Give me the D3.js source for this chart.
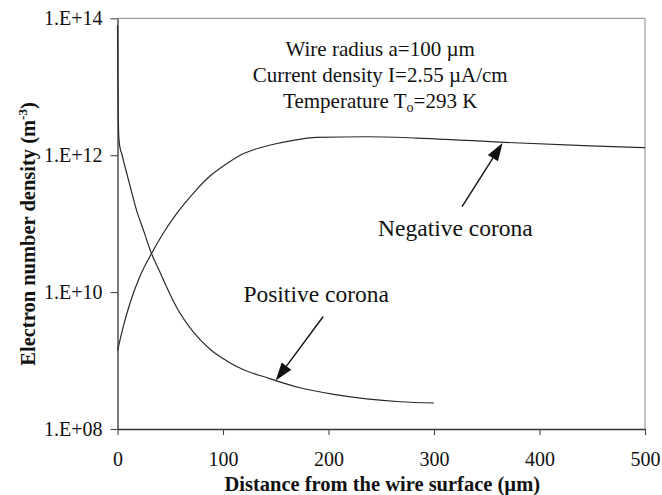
<!DOCTYPE html>
<html>
<head>
<meta charset="utf-8">
<script src="https://cdn.jsdelivr.net/npm/d3@7"></script>
<style>
  html, body { margin: 0; padding: 0; background: #fff; }
  svg { display: block; }
  text { font-family: "Liberation Serif", "Times New Roman", serif; fill: #111; }
</style>
</head>
<body>
<svg id="chart" width="662" height="495"></svg>
<script>
// Electron number density vs. distance from wire surface
const positiveX = [0, 0.3, 0.7, 1.3, 2.5, 4, 7, 12, 18, 24.5, 32.4, 40, 47, 56, 72, 88, 104, 119, 142, 150, 173, 205, 236, 268, 300];
const positiveN = [7.9e13, 1.6e13, 4.0e12, 1.8e12, 1.26e12, 1.05e12, 6.9e11, 3.5e11, 1.58e11, 8.1e10, 3.6e10, 2.0e10, 1.15e10, 6.0e9, 2.6e9, 1.45e9, 9.8e8, 7.4e8, 5.6e8, 5.1e8, 4.0e8, 3.2e8, 2.75e8, 2.5e8, 2.4e8];

const negativeX = [0, 5.5, 12, 21, 32.4, 43.5, 56, 72, 88, 104, 119, 129, 145, 164, 189, 236, 284, 363, 442, 500];
const negativeN = [1.38e9, 3.16e9, 7.0e9, 1.66e10, 3.7e10, 7.3e10, 1.4e11, 2.8e11, 5.0e11, 7.6e11, 1.05e12, 1.2e12, 1.41e12, 1.62e12, 1.82e12, 1.86e12, 1.78e12, 1.55e12, 1.38e12, 1.29e12];

const xTicks = [0, 100, 200, 300, 400, 500];
const yTicks = [1e8, 1e10, 1e12, 1e14];
const yTickLabels = ["1.E+08", "1.E+10", "1.E+12", "1.E+14"];

const infoLines = ["Wire radius a=100 \u00b5m", "Current density I=2.55 \u00b5A/cm", "Temperature T|o|=293 K"];

const svg = d3.select("#chart");
const plotL = 117.5, plotR = 645, plotT = 18.3, plotB = 429;

const x = d3.scaleLinear().domain([0, 500]).range([plotL, plotR]);
const y = d3.scaleLog().domain([1e8, 1e14]).range([plotB, plotT]);

// frame: top and right edges in light grey
svg.append("line").attr("x1", plotL).attr("x2", plotR).attr("y1", plotT).attr("y2", plotT)
  .attr("stroke", "#9a9a9a").attr("stroke-width", 1.2);
svg.append("line").attr("x1", plotR).attr("x2", plotR).attr("y1", plotT).attr("y2", plotB)
  .attr("stroke", "#9a9a9a").attr("stroke-width", 1.2);

// axes
const xAxis = svg.append("g").attr("transform", `translate(0,${plotB})`)
  .call(d3.axisBottom(x).tickValues(xTicks).tickSize(6).tickPadding(31).tickSizeOuter(0));
const yAxis = svg.append("g").attr("transform", `translate(${plotL},0)`)
  .call(d3.axisLeft(y).tickValues(yTicks).tickSize(7).tickPadding(8).tickSizeOuter(0)
    .tickFormat((d, i) => yTickLabels[i]));

[xAxis, yAxis].forEach(g => {
  g.select(".domain").attr("stroke", "#333").attr("stroke-width", 1.3);
  g.selectAll(".tick line").attr("stroke", "#444").attr("stroke-width", 1.1);
  g.selectAll(".tick text").attr("font-family", "Liberation Serif, Times New Roman, serif")
    .attr("font-size", 20).attr("fill", "#111");
});
xAxis.selectAll(".tick text").attr("dy", 0);
yAxis.selectAll(".tick text").attr("dy", "0.33em");

// curves
const line = d3.line().x(d => x(d[0])).y(d => y(d[1])).curve(d3.curveMonotoneX);
const series = [
  d3.zip(positiveX, positiveN),
  d3.zip(negativeX, negativeN)
];
svg.append("g").selectAll("path").data(series).join("path")
  .attr("d", line).attr("fill", "none").attr("stroke", "#2a2a2a").attr("stroke-width", 1.2);

// information block
const info = svg.append("text").attr("text-anchor", "middle").attr("font-size", 21);
infoLines.forEach((s, i) => {
  const t = info.append("tspan").attr("x", x(249)).attr("y", 56 + i * 26);
  const parts = s.split("|");
  t.text(parts[0]);
  if (parts.length > 1) {
    info.append("tspan").attr("font-size", 14).attr("dy", 4).text(parts[1]);
    info.append("tspan").attr("dy", -4).text(parts[2]);
  }
});

// labels and arrows
const arrows = [
  { from: [195, 4.4e9], to: [150, 5.1e8], label: "Positive corona", at: [188.3, 7.1e9] },
  { from: [326.6, 1.78e11], to: [365, 1.51e12], label: "Negative corona", at: [320.3, 6.5e10] }
];
arrows.forEach(a => {
  const x1 = x(a.from[0]), y1 = y(a.from[1]), x2 = x(a.to[0]), y2 = y(a.to[1]);
  const ang = Math.atan2(y2 - y1, x2 - x1);
  const L = 18, W = 6;
  const bx = x2 - L * Math.cos(ang), by = y2 - L * Math.sin(ang);
  svg.append("line").attr("x1", x1).attr("y1", y1).attr("x2", bx).attr("y2", by)
    .attr("stroke", "#111").attr("stroke-width", 1.4);
  const pts = [
    [x2, y2],
    [bx + W * Math.sin(ang), by - W * Math.cos(ang)],
    [bx - W * Math.sin(ang), by + W * Math.cos(ang)]
  ];
  svg.append("polygon").attr("points", pts.map(p => p.join(",")).join(" ")).attr("fill", "#111");
  svg.append("text").attr("x", x(a.at[0])).attr("y", y(a.at[1]))
    .attr("text-anchor", "middle").attr("font-size", 23.5).text(a.label);
});

// axis titles
svg.append("text").attr("x", (plotL + plotR) / 2 + 1).attr("y", 491)
  .attr("text-anchor", "middle").attr("font-size", 20.5).attr("font-weight", "bold")
  .text("Distance from the wire surface (\u00b5m)");

const yt = svg.append("text").attr("transform", "translate(35,234) rotate(-90)")
  .attr("text-anchor", "middle").attr("font-size", 20.5).attr("font-weight", "bold");
yt.append("tspan").text("Electron number density (m");
yt.append("tspan").attr("font-size", 13).attr("dy", -8).text("-3");
yt.append("tspan").attr("dy", 8).text(")");
</script>
</body>
</html>
